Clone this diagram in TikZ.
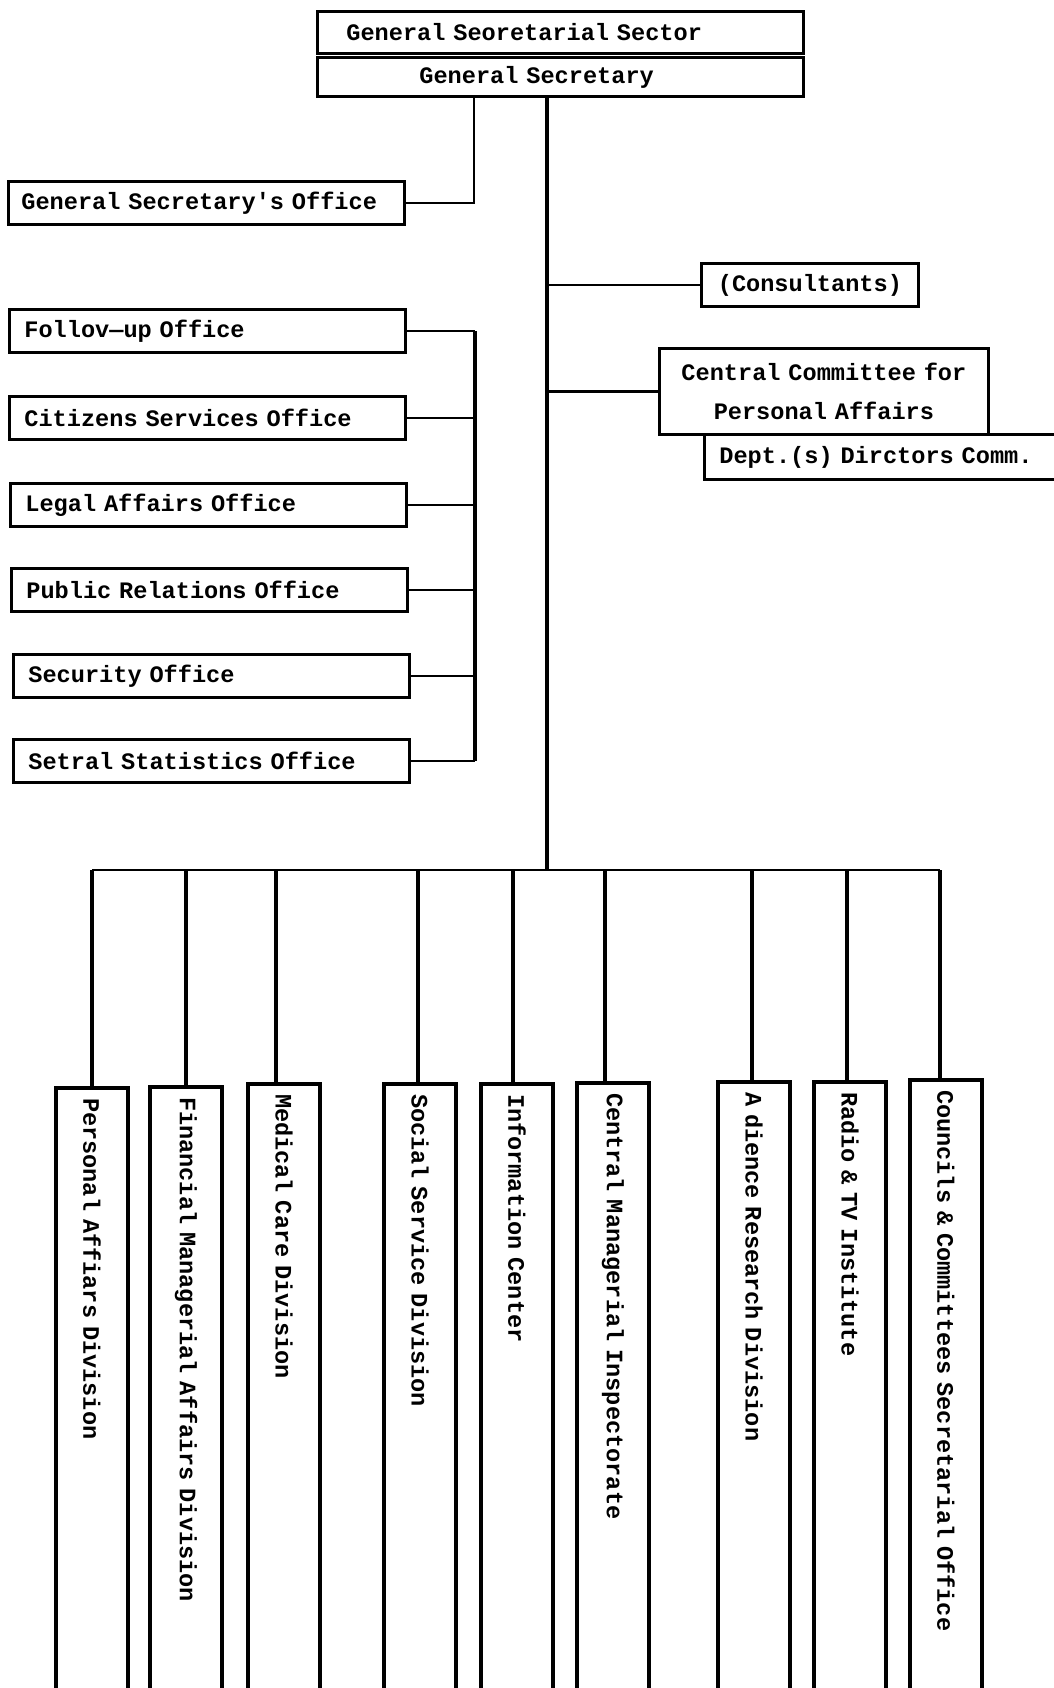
\documentclass[tikz,border=0pt]{standalone}
\usepackage{fontspec}
\setmonofont{Liberation Mono}
\begin{document}
\begin{tikzpicture}[x=0.5pt,y=-0.5pt,
  every node/.style={font=\ttfamily\bfseries\fontsize{11.8}{14}\selectfont},
  box/.style={draw, line width=1.4pt, anchor=north west, inner ysep=0pt, align=left},
  office/.style={box, minimum height=21.5pt, inner xsep=7.5pt, text width=183pt},
  vbox/.style={draw, line width=2pt, rotate=-90, anchor=west, minimum width=310pt,
    minimum height=36pt, inner xsep=5pt, inner ysep=0pt, text width=300pt, align=left},
  conn/.style={line width=1.4pt},
  vconn/.style={line width=2pt}]
\fill[white] (0,0) rectangle (1054,1688);
\useasboundingbox (0,0) rectangle (1054,1688);

% top boxes
\node[box, minimum height=21pt, inner xsep=14.5pt, text width=214pt] (sector) at (316,10) {General Seoretarial Sector};
\node[box, minimum height=19.5pt, inner xsep=51pt, text width=141pt] (gs) at (316,56) {General Secretary};

% left offices
\node[box, minimum height=21.5pt, inner xsep=6.5pt, text width=185pt] (gso) at (7,180) {General Secretary's Office};
\node[office] (fu) at (8,308) {Follov—up Office};
\node[office] (cso) at (8,395) {Citizens Services Office};
\node[office] (la) at (9,482) {Legal Affairs Office};
\node[office] (pr) at (10,567) {Public Relations Office};
\node[office] (so) at (12,653) {Security Office};
\node[office] (ss) at (12,738) {Setral Statistics Office};

% right boxes
\node[box, minimum height=21.5pt, inner xsep=4pt, text width=100.5pt, align=center] (cons) at (700,262) {(Consultants)};
\node[box, minimum height=43pt, inner xsep=4pt, text width=156.5pt, align=center,
  font=\ttfamily\bfseries\fontsize{11.8}{19.5}\selectfont] (cc) at (658,347) {Central Committee for\\Personal Affairs};
\node[box, minimum height=22.5pt, inner xsep=7.5pt, text width=175pt] (dept) at (703,433) {Dept.(s) Dirctors Comm.};

% vertical boxes
\node[vbox] (pa) at (92,1086) {Personal Affiars Division};
\node[vbox] (fm) at (186,1085) {Financial Managerial Affairs Division};
\node[vbox] (mc) at (284,1082) {Medical Care Division};
\node[vbox] (sd) at (420,1082) {Social Service Division};
\node[vbox] (ic) at (517,1082) {Information Center};
\node[vbox] (cm) at (613,1081) {Central Managerial Inspectorate};
\node[vbox] (ar) at (754,1080) {A dience Research Division};
\node[vbox] (rt) at (850,1080) {Radio \& TV Institute};
\node[vbox] (cco) at (946,1078) {Councils \& Committees Secretarial Office};

% connector coordinates
\coordinate (trunk) at (547,870);
\coordinate (gsoj) at (474,95);
\coordinate (lb) at (475,0);

% trunk and right branches
\draw[vconn] (gs.south -| trunk) -- (trunk);
\draw[conn] (cons.west) -- (cons.west -| trunk);
\draw[conn] (cc.west) -- (cc.west -| trunk);

% general secretary's office
\draw[conn] (gso.east) -| (gsoj);

% left office bus
\draw[vconn] (fu.east -| lb) -- (ss.east -| lb);
\foreach \n in {fu,cso,la,pr,so,ss} \draw[conn] (\n.east) -- (\n.east -| lb);

% bottom drops
\coordinate (d1) at (pa.west);
\coordinate (d2) at (fm.west);
\coordinate (d3) at ([xshift=-4pt]mc.west);
\coordinate (d4) at ([xshift=-1pt]sd.west);
\coordinate (d5) at ([xshift=-2pt]ic.west);
\coordinate (d6) at ([xshift=-4pt]cm.west);
\coordinate (d7) at ([xshift=-1pt]ar.west);
\coordinate (d8) at ([xshift=-1.5pt]rt.west);
\coordinate (d9) at ([xshift=-3pt]cco.west);
\draw[conn] (d1 |- trunk) -- (d9 |- trunk);
\foreach \d in {d1,d2,d3,d4,d5,d6,d7,d8,d9} \draw[vconn] (\d) -- (\d |- trunk);
\end{tikzpicture}
\end{document}
